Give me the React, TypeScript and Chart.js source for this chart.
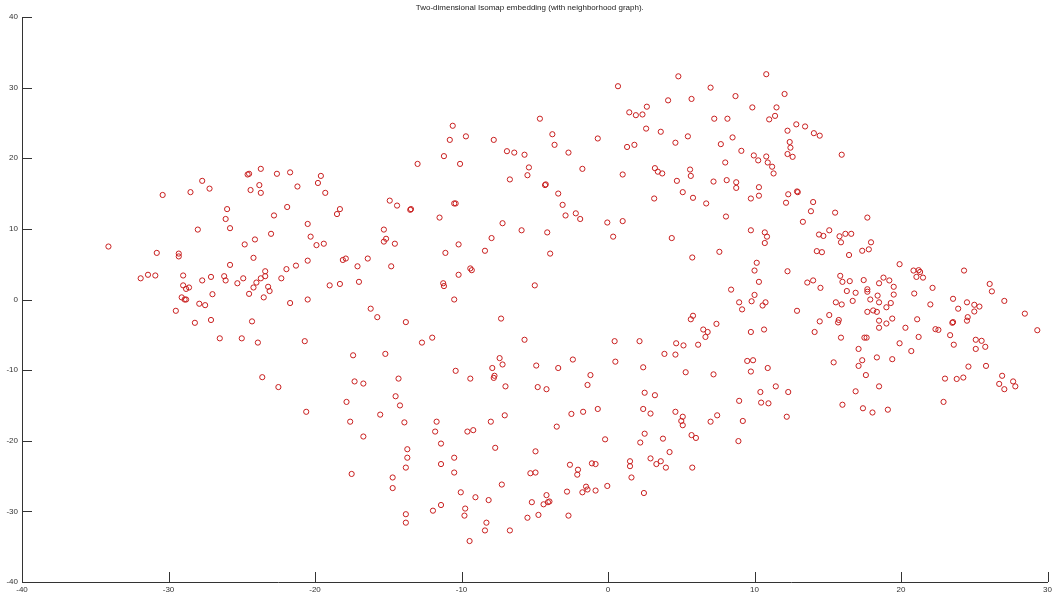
import React, { useEffect, useRef } from "react";
import { Chart, registerables } from "chart.js";

Chart.register(...registerables);

const chartTitle = "Two-dimensional Isomap embedding (with neighborhood graph).";
const xTickValues = [-40, -30, -20, -10, 0, 10, 20, 30];
const yTickValues = [-40, -30, -20, -10, 0, 10, 20, 30, 40];

// Embedding coordinates (x, y), grouped by region.
const westX = [
  -34.1, -30.4, -30.8, -29.3, -29.3, -31.9, -31.4, -30.9, -29.0, -29.0, -28.8, -28.6, -29.1, -28.9, -28.8, -29.5,
  -27.9, -27.5, -27.7, -27.1, -27.0, -28.0, -28.5, -27.7, -27.2, -26.0, -26.1, -25.8, -25.8, -26.2, -26.1, -25.3,
  -24.9, -24.5, -24.2, -24.0, -23.7, -23.4, -23.4, -23.2, -23.1, -23.5, -24.2, -24.8, -24.1, -23.0, -22.8, -21.9,
  -24.6, -24.5, -23.7, -23.8, -24.4, -23.7, -22.6, -21.7, -21.2, -19.6, -19.8, -19.3, -20.5, -20.3, -19.9, -19.4,
  -20.5, -21.95, -21.3, -22.3, -19.0, -21.7, -20.5,
  -28.2, -27.1, -24.3, -26.5, -25.0, -23.9, -20.7, -23.6, -22.5, -20.6,
];
const westY = [
  7.5, 14.8, 6.6, 6.5, 6.1, 3.0, 3.5, 3.4, 3.4, 2.0, 1.5, 1.7, 0.3, 0.0, 0.0, -1.6,
  -0.6, -0.8, 2.7, 3.2, 0.75, 9.9, 15.2, 16.8, 15.7, 12.8, 11.4, 10.1, 4.9, 3.3, 2.7, 2.3,
  3.0, 0.8, 1.7, 2.4, 3.0, 3.3, 4.0, 1.8, 1.2, 0.3, 5.9, 7.8, 8.5, 9.3, 11.9, 13.1,
  17.7, 17.8, 18.5, 16.2, 15.5, 15.1, 17.8, 18.0, 16.0, 17.5, 16.5, 15.1, 10.7, 8.9, 7.7, 7.9,
  5.5, 4.3, 4.8, 3.0, 2.0, -0.5, 0.0,
  -3.3, -2.9, -3.1, -5.5, -5.5, -6.1, -5.9, -11.0, -12.4, -15.9,
];

const centerX = [
  -10.6, -10.8, -9.7, -11.2, -13.0, -10.1, -7.8, -6.9, -6.4, -5.7, -4.65, -3.8, -3.65, -2.7, -5.4, -5.5,
  -6.7, -4.3, -4.25, -3.4, -3.1, -2.9, -4.15, -3.95, -5.9, -7.2, -7.95, -8.4, -10.2, -11.1, -11.5, -10.5,
  -10.4, -13.5, -13.45, -14.9, -14.4, -18.3, -18.5, -15.3, -15.15, -15.3, -14.55, -17.9, -18.1, -16.4,
  -17.1, -14.8, -18.3, -17.0, -11.25, -11.2, -10.2, -9.4, -9.3, -10.5, -5.0, -16.2, -15.75, -13.8, -12.7, -12.0,
  -7.3, -5.7, -17.4, -15.2, -17.3, -16.7, -14.3, -14.5, -17.85, -10.4, -9.4, -7.9, -7.4, -7.2, -7.75, -7.8,
  -7.0, -4.9, -4.8, -4.2, -3.4, -2.4,
  -14.2, -15.55, -17.6, -16.7, -17.5, -13.9, -13.7, -13.7, -13.8, -14.7, -14.7, -13.8, -13.8, -11.7, -11.8, -11.4,
  -11.4, -10.5, -10.5, -9.6, -9.2, -8.0, -7.05, -7.7, -10.05, -9.05, -8.15, -7.25, -11.95, -11.4, -9.75, -9.8,
  -8.3, -8.4, -9.45, -6.7, -3.5, -2.5, -4.95, -5.3, -4.95, -2.6, -2.8, -4.2, -5.2, -4.4, -4.1, -4.0,
  -4.75, -5.5, -2.7,
];
const centerY = [
  24.6, 22.6, 23.1, 20.3, 19.2, 19.2, 22.6, 21.0, 20.8, 20.5, 25.6, 23.4, 21.9, 20.8, 18.7, 17.6,
  17.0, 16.2, 16.3, 15.0, 13.4, 11.9, 9.5, 6.5, 9.8, 10.8, 8.7, 6.9, 7.8, 6.6, 11.6, 13.6,
  13.6, 12.7, 12.8, 14.0, 13.3, 12.8, 12.1, 9.9, 8.6, 8.2, 7.9, 5.8, 5.6, 5.8,
  4.7, 4.7, 2.2, 2.5, 2.3, 1.9, 3.5, 4.4, 4.15, 0.0, 2.0, -1.3, -2.5, -3.2, -6.1, -5.4,
  -2.7, -5.7, -7.9, -7.7, -11.6, -11.9, -11.2, -13.7, -14.5, -10.1, -11.2, -9.7, -8.3, -9.2, -10.8, -11.1,
  -12.3, -9.35, -12.4, -12.7, -9.7, -8.5,
  -15.0, -16.3, -17.3, -19.4, -24.7, -17.4, -21.2, -22.4, -23.8, -25.2, -26.7, -30.4, -31.6, -17.3, -18.7, -20.4,
  -23.3, -22.4, -24.5, -18.7, -18.5, -17.3, -16.4, -21.0, -27.3, -28.0, -28.4, -26.2, -29.9, -29.1, -29.6, -30.6,
  -31.6, -32.7, -34.2, -32.7, -18.0, -16.2, -21.5, -24.6, -24.5, -23.4, -27.2, -27.7, -28.7, -29.0, -28.7, -28.6,
  -30.5, -30.9, -30.6,
];

const eastX = [
  0.68, 4.8, 7.0, 10.8, 12.05, 4.1, 5.7, 8.7, 2.65, 1.45, 1.9, 2.35, 9.85, 11.5, 11.4, 11.0,
  7.25, 8.15, 2.6, 3.6, 5.45, 4.6, -0.7, 1.3, 1.8, -1.75, 1.0, 3.2, 3.4, 3.7, 5.6, 5.65,
  4.7, 5.1, 5.8, 3.15, 6.7, 7.2, 8.1, 8.75, 8.75, 8.0, 7.7, 8.5, 9.1, 9.95, 10.25, 10.8,
  10.9, 11.2, 11.3, 10.3, 10.3, 9.75, 12.25, 12.85, 13.45, 14.05, 12.4, 12.45, 12.25, 12.6, 12.95, 12.9,
  12.3, 12.15, 14.0, 13.85, 13.3, 8.05, -2.2, -1.9, -0.05, 1.0,
  0.35, 4.35, 5.75, 7.6, 9.75, 10.7, 10.85, 10.7, 10.15, 10.0, 10.3, 12.25, 13.6, 14.0, 12.9, 8.4,
  10.0, 9.8, 8.95, 9.15, 10.75, 10.55, 9.75, 10.65, 5.8, 5.65, 7.4, 6.5, 6.8, 6.65, 4.65, 5.15,
  6.15, 3.85, 4.6, 0.45, 2.15, 0.5, 2.4, -1.2, 5.3, 7.2, 9.5, 9.9, 9.75, 10.9, 14.1,
  -1.4, 2.5, 3.2, 2.4, 2.9, -1.7, -0.7, -0.2, 2.5, 2.2, 3.75, 4.6, 5.1, 5.0, 5.1, 5.7,
  6.0, 4.2, 2.9, 3.3, 3.6, 3.95, 5.75, 1.5, 1.5, 1.6, 2.45, -1.1, -0.85, -2.05, -2.1, -1.5,
  -1.4, -1.75, -0.85, -0.05, 7.0, 7.45, 8.95, 9.2, 8.9, 10.4, 10.45, 10.95, 11.45, 12.3, 12.2,
];
const eastY = [
  30.2, 31.6, 30.0, 31.9, 29.1, 28.2, 28.4, 28.8, 27.3, 26.5, 26.1, 26.2, 27.2, 27.2, 26.0, 25.5,
  25.6, 25.6, 24.2, 23.75, 23.1, 22.2, 22.8, 21.6, 21.9, 18.5, 17.7, 18.6, 18.1, 17.85, 18.4, 17.5,
  16.8, 15.2, 14.4, 14.3, 13.6, 16.7, 16.9, 16.6, 15.8, 19.4, 22.0, 22.95, 21.05, 20.4, 19.7, 20.25,
  19.4, 18.8, 17.85, 15.9, 14.7, 14.3, 23.9, 24.8, 24.5, 23.55, 22.3, 21.5, 20.6, 20.2, 15.2, 15.3,
  14.9, 13.7, 13.8, 12.5, 11.0, 11.75, 12.2, 11.4, 10.9, 11.1,
  8.9, 8.7, 5.95, 6.75, 9.8, 9.5, 8.9, 8.0, 5.2, 4.1, 2.5, 4.0, 2.4, 2.7, -1.6, 1.4,
  0.65, -0.25, -0.4, -1.4, -0.4, -0.85, -4.6, -4.25, -2.3, -2.8, -3.45, -4.25, -4.6, -5.3, -6.2, -6.5,
  -6.4, -7.7, -7.8, -5.9, -5.9, -8.8, -9.6, -10.7, -10.3, -10.6, -8.7, -8.6, -10.2, -9.7, -4.6,
  -12.1, -13.2, -13.55, -15.5, -16.15, -15.9, -15.5, -19.8, -19.0, -20.25, -19.7, -15.9, -16.6, -17.2, -17.8, -19.2,
  -19.6, -21.6, -22.5, -23.3, -22.9, -23.8, -23.8, -22.9, -23.6, -25.2, -27.4, -23.2, -23.3, -24.1, -24.8, -26.5,
  -26.9, -27.3, -27.05, -26.4, -17.3, -16.4, -14.35, -17.2, -20.05, -13.1, -14.6, -14.7, -12.3, -13.1, -16.6,
];

const farEastX = [
  14.45, 15.95, 15.5, 17.7, 15.1, 14.4, 14.7, 15.8, 16.2, 16.6, 15.9, 17.95, 17.8, 17.35, 14.25, 14.6,
  16.45, 19.9, 24.3,
  14.5, 15.85, 16.0, 16.5, 17.45, 16.3, 16.9, 17.7, 17.7, 18.5, 18.8, 19.2, 19.5, 18.4, 19.5, 17.9,
  18.5, 16.7, 15.55, 15.95, 19.3, 19.0, 17.7, 18.1, 18.35, 15.1, 14.45, 15.75, 15.7, 18.5, 19.4, 19.0,
  18.5, 15.9, 17.5, 17.65, 17.1, 15.4, 17.35, 17.1, 18.35, 19.4, 19.9, 17.6, 18.5, 16.9, 16.0, 17.4,
  18.05, 19.1, 20.85, 21.2, 21.3, 21.05, 21.5, 22.15, 20.9, 22.0, 21.1, 20.3, 21.2, 20.7, 23.55, 24.5,
  25.0, 25.35, 25.0, 23.9, 26.05, 26.2, 27.05, 28.45, 29.3, 23.55, 23.5, 24.55, 24.5, 22.35, 22.55, 23.35,
  23.6, 25.1, 25.5, 25.1, 25.75, 24.6, 25.8, 23.0, 23.8, 24.25, 22.9, 26.9, 26.7, 27.05, 27.65, 27.8,
];
const farEastY = [
  23.2, 20.5, 12.3, 11.6, 9.8, 9.2, 9.0, 8.95, 9.3, 9.3, 8.1, 8.1, 7.1, 6.9, 6.85, 6.7,
  6.3, 5.0, 4.1,
  1.65, 3.35, 2.5, 2.6, 2.75, 1.2, 0.95, 1.45, 1.1, 2.3, 3.1, 2.7, 1.8, 0.55, 0.7, 0.0,
  -0.4, -0.2, -0.4, -0.7, -0.5, -1.1, -1.75, -1.55, -1.75, -2.2, -3.1, -2.9, -3.25, -3.0, -2.7, -3.4,
  -4.0, -5.4, -5.4, -5.4, -7.0, -8.9, -8.6, -9.4, -8.2, -8.45, -6.2, -10.7, -12.3, -13.0, -14.9, -15.4,
  -16.0, -15.6, 4.1, 4.15, 3.9, 3.2, 3.1, 1.65, 0.85, -0.7, -2.8, -4.0, -5.3, -7.3, 0.1, -0.4,
  -0.75, -1.0, -1.7, -1.3, 2.2, 1.15, -0.2, -2.0, -4.35, -3.2, -3.3, -2.5, -3.0, -4.2, -4.3, -5.05,
  -6.4, -5.7, -5.85, -7.0, -6.7, -9.5, -9.4, -11.2, -11.25, -11.05, -14.5, -10.8, -11.95, -12.7, -11.6, -12.3,
];

const allX = [...westX, ...centerX, ...eastX, ...farEastX];
const allY = [...westY, ...centerY, ...eastY, ...farEastY];

const FONT = "'Liberation Sans', Arial, sans-serif";
const AXIS_COLOR = "#333333";

export default function App() {
  const canvasRef = useRef<HTMLCanvasElement | null>(null);

  useEffect(() => {
    document.body.style.margin = "0";
    document.body.style.overflow = "hidden";
    const canvas = canvasRef.current;
    if (!canvas) return;

    const points = allX.map((x, i) => ({ x, y: allY[i] }));

    const decorPlugin = {
      id: "decor",
      afterDraw(chart: any) {
        const { ctx, chartArea, scales } = chart;
        ctx.save();
        // inward tick marks
        ctx.strokeStyle = AXIS_COLOR;
        ctx.lineWidth = 1;
        ctx.beginPath();
        xTickValues.forEach((v) => {
          const px = Math.round(scales.x.getPixelForValue(v)) + 0.5;
          ctx.moveTo(px, chartArea.bottom);
          ctx.lineTo(px, chartArea.bottom - 10);
        });
        yTickValues.forEach((v) => {
          const py = Math.round(scales.y.getPixelForValue(v)) + 0.5;
          ctx.moveTo(chartArea.left, py);
          ctx.lineTo(chartArea.left + 10, py);
        });
        ctx.stroke();
        // title
        ctx.fillStyle = "#222222";
        ctx.font = `8px ${FONT}`;
        ctx.textAlign = "center";
        ctx.textBaseline = "middle";
        ctx.fillText(chartTitle, (chartArea.left + chartArea.right) / 2 - 5, 8);
        ctx.restore();
      },
    };

    const chart = new Chart(canvas, {
      type: "scatter",
      data: {
        datasets: [
          {
            data: points,
            pointStyle: "circle",
            pointRadius: 2.6,
            pointBorderWidth: 1,
            borderColor: "#c81e1e",
            backgroundColor: "rgba(0,0,0,0)",
            pointHoverRadius: 2.6,
          },
        ],
      },
      options: {
        animation: false,
        responsive: false,
        maintainAspectRatio: false,
        events: [],
        layout: { padding: { top: 17, right: 5, left: 0, bottom: 0 } },
        plugins: {
          legend: { display: false },
          title: { display: false },
          tooltip: { enabled: false },
        },
        scales: {
          x: {
            type: "linear",
            min: -40,
            max: 30,
            grid: { display: false, drawTicks: false },
            border: { display: true, color: AXIS_COLOR, width: 1 },
            ticks: {
              stepSize: 10,
              color: "#333333",
              font: { family: FONT, size: 8 },
              padding: 3,
              maxRotation: 0,
            },
            afterFit: (scale: any) => {
              scale.height = 14;
            },
          },
          y: {
            type: "linear",
            min: -40,
            max: 40,
            grid: { display: false, drawTicks: false },
            border: { display: true, color: AXIS_COLOR, width: 1 },
            ticks: {
              stepSize: 10,
              color: "#333333",
              font: { family: FONT, size: 8 },
              padding: 4,
            },
            afterFit: (scale: any) => {
              scale.width = 22;
            },
          },
        },
      },
      plugins: [decorPlugin],
    });

    return () => {
      chart.destroy();
    };
  }, []);

  return (
    <div style={{ width: 1055, height: 596, background: "#ffffff" }}>
      <canvas ref={canvasRef} width={1055} height={596} style={{ display: "block" }} />
    </div>
  );
}
